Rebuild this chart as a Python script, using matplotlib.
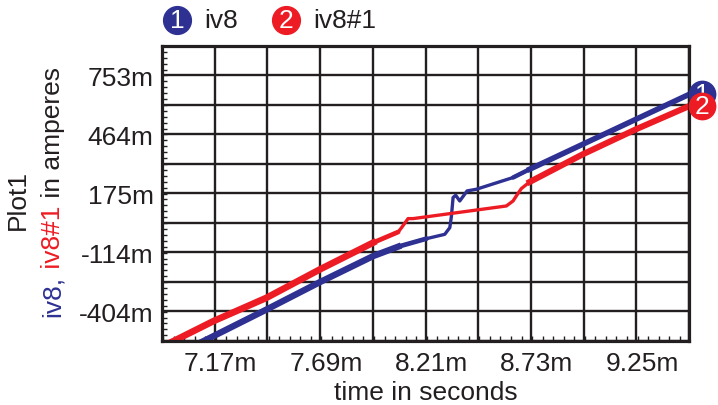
import numpy as np
import matplotlib
matplotlib.use("Agg")
import matplotlib.pyplot as plt
import matplotlib.transforms as mtransforms
from matplotlib.lines import Line2D
from matplotlib.ticker import FixedLocator, MultipleLocator

plt.rcParams['font.family'] = ['Liberation Sans', 'DejaVu Sans']

# time in ms, current in mA
t_iv8 = [7.100, 7.147, 7.426, 7.689, 7.952, 8.075, 8.215, 8.305, 8.330, 8.338,
         8.346, 8.359, 8.379, 8.415, 8.461, 8.642, 8.724, 8.987, 9.250, 9.496, 9.520]
i_iv8 = [-556.3, -533.1, -394.2, -260.2, -132.7, -86.6, -47.3, -26.2, 6.7, 63.6,
         153.9, 165.2, 137.2, 186.3, 194.6, 252.0, 292.7, 415.4, 538.1, 652.4, 663.4]

t_iv8_1 = [6.960, 6.999, 7.163, 7.426, 7.689, 7.952, 8.075, 8.092, 8.124, 8.149,
           8.609, 8.642, 8.658, 8.683, 8.724, 8.987, 9.250, 9.496, 9.520]
i_iv8_1 = [-552.3, -533.1, -451.6, -336.8, -197.9, -66.9, -14.9, 6.7, 50.8, 50.8,
           112.7, 137.2, 161.7, 198.0, 230.4, 366.3, 489.0, 595.5, 605.8]

x_labels = [7.17, 7.69, 8.21, 8.73, 9.25]
y_labels = [-404, -114, 175, 464, 753]

BLUE = '#2e3192'
RED = '#ed1c24'
INK = '#231f20'
FS = 19

fig = plt.figure(figsize=(7.18, 4.06), dpi=100)
ax = fig.add_axes([162 / 718, 64 / 406, 527 / 718, 295.3 / 406])

# grid every half label step, small ticks every fifth of that
xstep = (x_labels[1] - x_labels[0]) / 2
ystep = (y_labels[-1] - y_labels[0]) / (len(y_labels) - 1) / 2
ax.set_xlim(x_labels[0] - xstep, x_labels[-1] + xstep)
ax.set_ylim(y_labels[0] - ystep, y_labels[-1] + ystep)

xgrid = x_labels[0] - xstep + xstep * np.arange(11)
ygrid = y_labels[0] - ystep + ystep * np.arange(11)
ax.xaxis.set_major_locator(FixedLocator(xgrid))
ax.yaxis.set_major_locator(FixedLocator(ygrid))
ax.set_xticklabels(['%.2fm' % v if i % 2 == 1 else '' for i, v in enumerate(xgrid)])
ax.set_yticklabels(['%.0fm' % y_labels[(i - 1) // 2] if i % 2 == 1 else ''
                    for i in range(len(ygrid))])
ax.xaxis.set_minor_locator(MultipleLocator(xstep / 5))
ax.yaxis.set_minor_locator(MultipleLocator(ystep / 5))
ax.tick_params(which='major', length=0, labelsize=FS, colors=INK)
ax.tick_params(axis='x', which='major', pad=7)
ax.tick_params(axis='y', which='major', pad=6)
ax.tick_params(which='minor', direction='in', length=3.5, width=1, color=INK)
ax.grid(True, which='major', color=INK, linewidth=1.7)

for sp in ax.spines.values():
    sp.set_linewidth(2.3)
    sp.set_color(INK)
    sp.set_zorder(5)

shift = mtransforms.ScaledTranslation(6 / 100, 0, fig.dpi_scale_trans)
for lab in ax.get_xticklabels():
    lab.set_transform(lab.get_transform() + shift)

# traces: thick where the ripple is wide, thin around the steps
ax.plot(t_iv8, i_iv8, color=BLUE, lw=2.4, solid_capstyle='round', zorder=3)
ax.plot(t_iv8[:6], i_iv8[:6], color=BLUE, lw=4.6, zorder=3)
ax.plot(t_iv8[5:7], i_iv8[5:7], color=BLUE, lw=3.4, solid_capstyle='round', zorder=3)
ax.plot(t_iv8[16:], i_iv8[16:], color=BLUE, lw=4.0, zorder=3)
ax.plot(t_iv8[15:17], i_iv8[15:17], color=BLUE, lw=3.2, solid_capstyle='round', zorder=3)
ax.plot(t_iv8_1, i_iv8_1, color=RED, lw=2.4, solid_capstyle='round', zorder=3)
ax.plot(t_iv8_1[:6], i_iv8_1[:6], color=RED, lw=4.8, zorder=3)
ax.plot(t_iv8_1[5:7], i_iv8_1[5:7], color=RED, lw=3.4, solid_capstyle='round', zorder=3)
ax.plot(t_iv8_1[14:], i_iv8_1[14:], color=RED, lw=4.4, zorder=3)

# end-of-trace badges beyond the right edge, second one stacked on top
badge = mtransforms.blended_transform_factory(ax.transAxes, ax.transData) + \
    mtransforms.ScaledTranslation(13 / 100, 0, fig.dpi_scale_trans)
for n, col, ts, ys in [(1, BLUE, t_iv8, i_iv8), (2, RED, t_iv8_1, i_iv8_1)]:
    yend = np.interp(ax.get_xlim()[1], ts, ys)
    z = 6 + 2 * n
    ax.plot([1], [yend], 'o', ms=19, color=col, transform=badge, clip_on=False, zorder=z)
    ax.text(1, yend, str(n), transform=badge, color='white', fontsize=FS,
            ha='center', va='center', clip_on=False, zorder=z + 1)

# legend along the top
for cx, col, n, name in [(177, BLUE, '1', 'iv8'), (286, RED, '2', 'iv8#1')]:
    fy = 1 - 21 / 406
    fig.add_artist(Line2D([cx / 718], [fy], marker='o', ms=20, color=col,
                          transform=fig.transFigure))
    fig.text(cx / 718, fy, n, color='white', fontsize=FS, ha='center', va='center')
    fig.text((cx + 27) / 718, fy, name, color=INK, fontsize=FS, va='center')

ax.set_xlabel('time in seconds', fontsize=FS, color=INK, labelpad=4)

fig.text(18 / 718, 1 - 200 / 406, 'Plot1', rotation=90, fontsize=FS, color=INK,
         ha='center', va='center')

# coloured axis title, stacked bottom-up
fig.canvas.draw()
r = fig.canvas.get_renderer()
ybase = 317
for txt, col in [('iv8,', BLUE), (' iv8#1', RED), (' in amperes', INK)]:
    t = fig.text(53 / 718, 1 - ybase / 406, txt, rotation=90, fontsize=FS, color=col,
                 ha='center', va='bottom')
    ext = t.get_window_extent(r)
    ybase -= ext.height

fig.savefig('out.png', dpi=100)
